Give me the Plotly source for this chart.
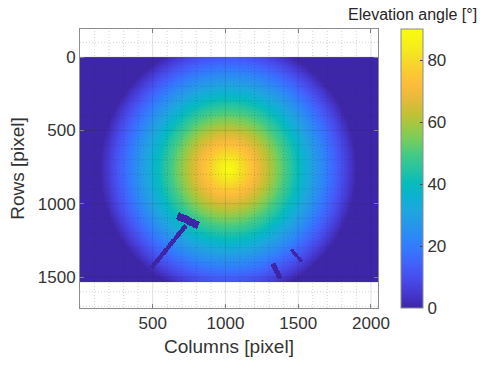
import numpy as np
import plotly.graph_objects as go

# ---------------- data ----------------
IMG_COLS = 2048
IMG_ROWS = 1536
STEP = 4  # resampling step in image pixels

# zenith position in the sky image (column, row)
zenith_col = 1020
zenith_row = 765

# radial profile: distance from zenith (pixels) -> elevation angle (deg)
radius_px = [0, 100, 200, 300, 400, 500, 600, 700, 800, 880]
elevation_deg = [90, 80, 69.5, 59, 48.5, 38, 27.5, 17.5, 8, 0]

# occluding objects (shadow band arm, mast, fixtures): segment ends (col,row) and widths
occ_start = [(670, 1082), (728, 1150), (1326, 1410), (1452, 1314)]
occ_end = [(814, 1150), (489, 1442), (1376, 1512), (1525, 1397)]
occ_width = [52, 30, 36, 22]

x_ticks = [500, 1000, 1500, 2000]
y_ticks = [0, 500, 1000, 1500]
cbar_ticks = [0, 20, 40, 60, 80]

# ---------------- build the image ----------------
xc = np.arange(IMG_COLS // STEP) * STEP + STEP / 2 + 0.5
yc = np.arange(IMG_ROWS // STEP) * STEP + STEP / 2 + 0.5
XX, YY = np.meshgrid(xc, yc)
R = np.hypot(XX - zenith_col, YY - zenith_row)
Z = np.interp(R, radius_px, elevation_deg, right=0.0)

for (x0, y0), (x1, y1), w in zip(occ_start, occ_end, occ_width):
    dx, dy = x1 - x0, y1 - y0
    L2 = dx * dx + dy * dy
    t = ((XX - x0) * dx + (YY - y0) * dy) / L2
    px = x0 + t * dx
    py = y0 + t * dy
    d = np.hypot(XX - px, YY - py)
    Z[(t >= 0) & (t <= 1) & (d <= w / 2)] = 0.0

Z = np.round(Z, 1)

parula = [
    [0.00, "rgb(62,38,168)"],
    [0.05, "rgb(69,55,206)"],
    [0.10, "rgb(71,74,233)"],
    [0.15, "rgb(67,94,250)"],
    [0.20, "rgb(55,115,254)"],
    [0.25, "rgb(45,135,247)"],
    [0.30, "rgb(38,151,233)"],
    [0.35, "rgb(30,166,222)"],
    [0.40, "rgb(12,178,208)"],
    [0.45, "rgb(8,188,186)"],
    [0.50, "rgb(40,196,160)"],
    [0.55, "rgb(68,202,132)"],
    [0.60, "rgb(114,205,97)"],
    [0.65, "rgb(158,200,68)"],
    [0.70, "rgb(198,192,52)"],
    [0.75, "rgb(230,186,58)"],
    [0.80, "rgb(253,188,60)"],
    [0.85, "rgb(250,204,48)"],
    [0.90, "rgb(244,224,36)"],
    [0.95, "rgb(246,241,25)"],
    [1.00, "rgb(249,251,14)"],
]

fig = go.Figure()
fig.add_trace(go.Heatmap(
    x=xc, y=yc, z=Z, zmin=0, zmax=90, colorscale=parula,
    zsmooth=False, hoverinfo="skip",
    colorbar=dict(
        x=(401 - 80) / 298, xanchor="left", xpad=0, ypad=0,
        y=0.5, yanchor="middle", len=1, lenmode="fraction",
        thickness=22, outlinewidth=1, outlinecolor="#8c8c8c",
        tickvals=cbar_ticks, ticks="inside", ticklen=3, tickcolor="#444",
        tickfont=dict(size=17, color="#333333"),
    ),
))

# grid (drawn above the image like MATLAB)
for v in range(100, IMG_COLS + 1, 100):
    major = v % 500 == 0
    fig.add_vline(x=v, line=dict(color="rgba(38,38,38,0.13)" if major else "rgba(38,38,38,0.2)",
                                 width=1, dash="solid" if major else "1px,2px"), layer="above")
for v in range(-100, 1800, 100):
    major = v % 500 == 0
    fig.add_hline(y=v, line=dict(color="rgba(38,38,38,0.13)" if major else "rgba(38,38,38,0.2)",
                                 width=1, dash="solid" if major else "1px,2px"), layer="above")

axis_common = dict(
    showgrid=False, zeroline=False, showline=True, linecolor="#8c8c8c", linewidth=1,
    mirror="ticks", ticks="inside", ticklen=4, tickcolor="#8c8c8c",
    tickfont=dict(size=17, color="#333333"), layer="above traces",
)
fig.update_xaxes(range=[0.5, 2048.5], tickvals=x_ticks, **axis_common,
                 title=dict(text="Columns [pixel]", font=dict(size=19, color="#333333"), standoff=7))
fig.update_yaxes(range=[1711, -191], tickvals=y_ticks, **axis_common,
                 title=dict(text="Rows [pixel]", font=dict(size=19, color="#333333"), standoff=8))

fig.add_annotation(text="Elevation angle [°]", xref="paper", yref="paper",
                   x=(412 - 80) / 298, y=(308 - 14) / 279, xanchor="center", yanchor="middle",
                   showarrow=False, font=dict(size=16, color="#262626"))

fig.update_layout(
    width=480, height=365, margin=dict(l=80, r=102, t=29, b=57),
    paper_bgcolor="white", plot_bgcolor="white",
    font=dict(family="Liberation Sans, Arial, sans-serif", color="#333333"),
    showlegend=False,
)
fig.write_html("out.html")
